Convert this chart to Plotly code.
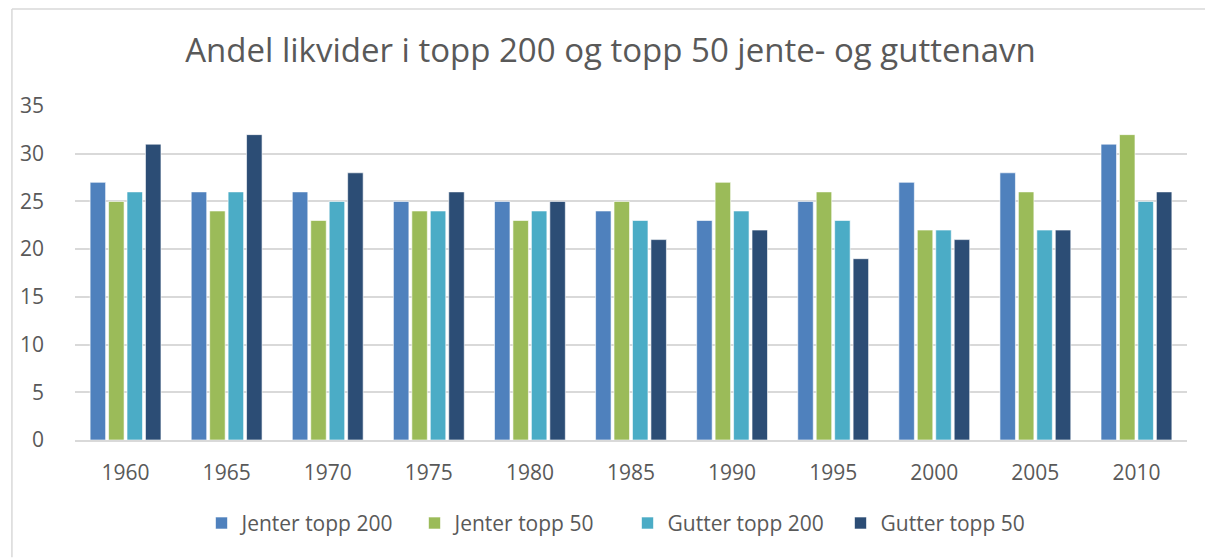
import plotly.graph_objects as go

years = ["1960", "1965", "1970", "1975", "1980", "1985", "1990", "1995", "2000", "2005", "2010"]
jenter_200 = [27, 26, 26, 25, 25, 24, 23, 25, 27, 28, 31]
jenter_50 = [25, 24, 23, 24, 23, 25, 27, 26, 22, 26, 32]
gutter_200 = [26, 26, 25, 24, 24, 23, 24, 23, 22, 22, 25]
gutter_50 = [31, 32, 28, 26, 25, 21, 22, 19, 21, 22, 26]

series = [
    ("Jenter topp 200", jenter_200, "#4F81BD"),
    ("Jenter topp 50", jenter_50, "#9BBB59"),
    ("Gutter topp 200", gutter_200, "#4BACC6"),
    ("Gutter topp 50", gutter_50, "#2C4D75"),
]

FONT = "Open Sans"
GRAY = "#595959"
BORDER = "#D9D9D9"

fig = go.Figure()
for name, vals, col in series:
    fig.add_trace(go.Bar(
        x=years, y=vals, name=name,
        marker=dict(color=col, line=dict(color="rgba(255,255,255,0.6)", width=1)),
    ))

# page has an 8px body margin; figure fills the rest of the window
OFF = 8
W, H = 1213 - OFF, 558 - OFF
ml, mr, mt, mb = 72 - OFF, 26, 106 - OFF, 558 - 440.5
pw, ph = W - ml - mr, H - mt - mb

def px(x):
    return (x - OFF - ml) / pw

def py(y):
    return (H - mb - (y - OFF)) / ph

fig.update_layout(
    width=W, height=H,
    margin=dict(l=ml, r=mr, t=mt, b=mb),
    paper_bgcolor="white", plot_bgcolor="white",
    barmode="group", bargap=0.27, bargroupgap=0.16,
    title=dict(
        text="Andel likvider i topp 200 og topp 50 jente- og guttenavn",
        x=0.5, xanchor="center", y=1 - (50 - OFF) / H, yanchor="middle",
        font=dict(family=FONT, size=33, color=GRAY),
    ),
    font=dict(family=FONT, color=GRAY),
    showlegend=True,
    legend=dict(
        orientation="h", x=px(626), xanchor="center", y=py(524), yanchor="middle",
        font=dict(family=FONT, size=21, color=GRAY),
        entrywidth=168, entrywidthmode="pixels",
        itemwidth=30, traceorder="normal",
    ),
    xaxis=dict(
        showgrid=False, showline=True, linecolor=BORDER, linewidth=1.5,
        ticks="", tickfont=dict(family=FONT, size=21, color=GRAY),
        ticklabelstandoff=13,
    ),
    yaxis=dict(
        range=[0, 35], dtick=5, showgrid=True, gridcolor=BORDER, gridwidth=1.5,
        zeroline=False, showline=False, ticks="",
        tickfont=dict(family=FONT, size=21, color=GRAY),
        ticklabelstandoff=30,
    ),
    shapes=[
        dict(type="line", xref="paper", yref="paper",
             x0=px(8.75), x1=px(1213), y0=py(8.75), y1=py(8.75),
             line=dict(color=BORDER, width=1.5), layer="below"),
        dict(type="line", xref="paper", yref="paper",
             x0=px(8.75), x1=px(8.75), y0=py(8.75), y1=py(558),
             line=dict(color=BORDER, width=1.5), layer="below"),
    ],
)

fig.write_html("out.html")
